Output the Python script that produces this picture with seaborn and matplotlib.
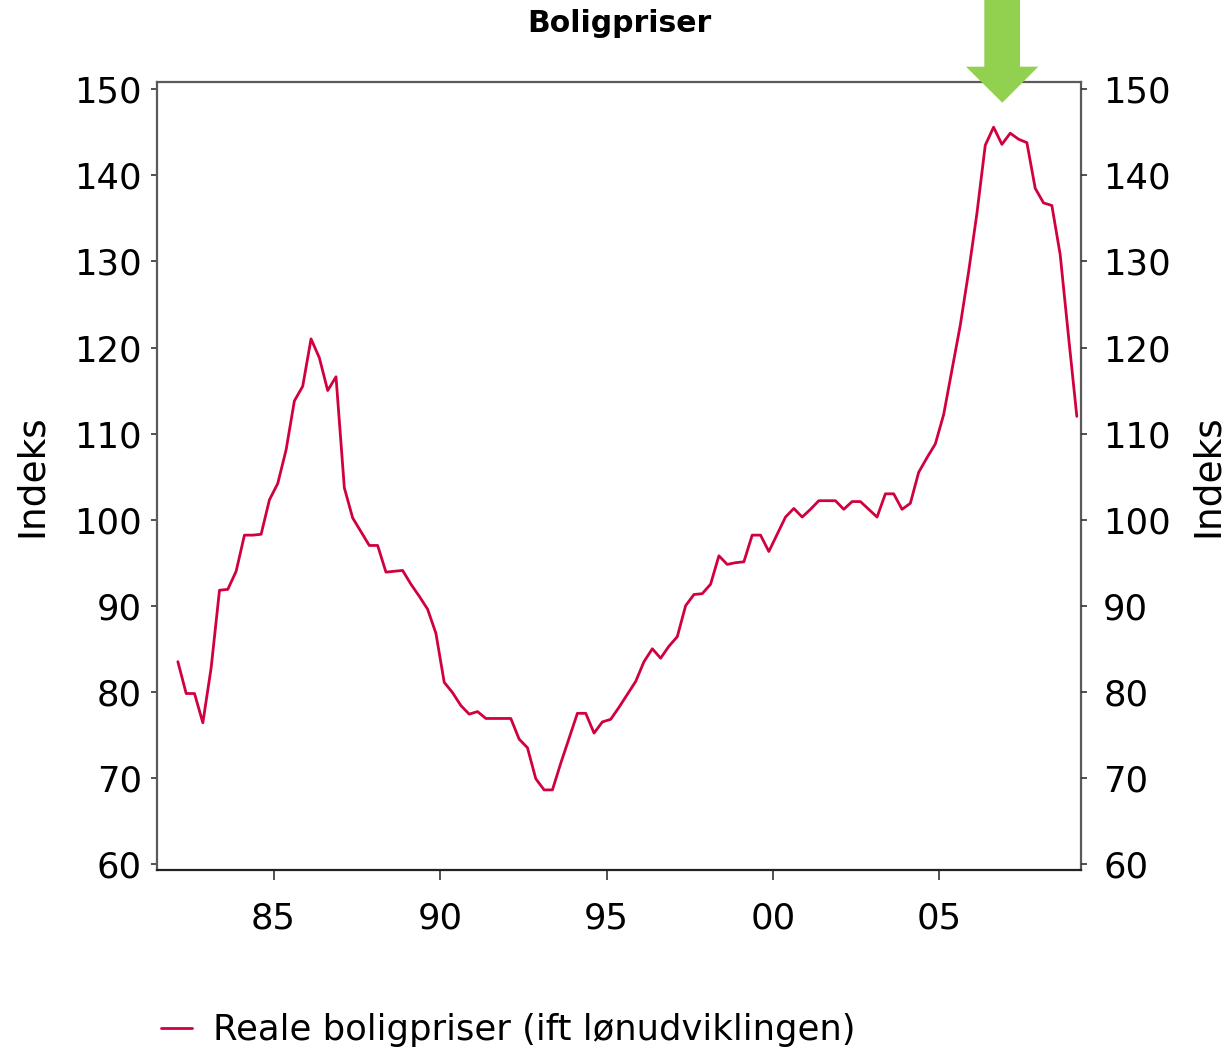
import numpy as np
import pandas as pd
import matplotlib
matplotlib.use("Agg")
import matplotlib.pyplot as plt
from matplotlib.patches import Polygon
import seaborn as sns

# ---- data (quarterly, 1982Q1 - 2009Q1) ----
start_quarter = "1982Q1"
end_quarter = "2009Q1"
values = [
    83.5, 79.8, 79.8, 76.4, 82.8, 91.8, 91.9, 94.0, 98.2, 98.2,
    98.3, 102.3, 104.2, 108.1, 113.8, 115.5, 121.0, 118.8, 115.0, 116.6,
    103.7, 100.2, 98.6, 97.0, 97.0, 93.9, 94.0, 94.1, 92.5, 91.1,
    89.6, 86.8, 81.1, 79.9, 78.4, 77.4, 77.7, 76.9, 76.9, 76.9,
    76.9, 74.5, 73.5, 69.9, 68.6, 68.6, 71.7, 74.6, 77.5, 77.5,
    75.2, 76.5, 76.8, 78.2, 79.7, 81.2, 83.5, 85.0, 83.9, 85.3,
    86.4, 90.0, 91.3, 91.4, 92.5, 95.8, 94.8, 95.0, 95.1, 98.2,
    98.2, 96.3, 98.3, 100.3, 101.3, 100.3, 101.2, 102.2, 102.2, 102.2,
    101.2, 102.1, 102.1, 101.2, 100.3, 103.0, 103.0, 101.2, 101.9, 105.5,
    107.2, 108.8, 112.2, 117.4, 122.6, 128.8, 135.6, 143.5, 145.6, 143.6,
    144.9, 144.2, 143.8, 138.5, 136.8, 136.5, 130.8, 121.3, 112.0,
]
x_tick_years = [1985, 1990, 1995, 2000, 2005]
x_tick_labels = ["85", "90", "95", "00", "05"]
y_ticks = [60, 70, 80, 90, 100, 110, 120, 130, 140, 150]
title = "Boligpriser"
y_label = "Indeks"
series_label = "Reale boligpriser (ift lønudviklingen)"

periods = pd.period_range(start_quarter, end_quarter, freq="Q")
x_dec = periods.year + (periods.quarter - 0.5) / 4.0
df = pd.DataFrame({"x": x_dec, "value": values})

# ---- style ----
sns.set_style("white")
plt.rcParams["font.family"] = ["DejaVu Sans"]
plt.rcParams["text.color"] = "black"
plt.rcParams["axes.labelcolor"] = "black"
plt.rcParams["xtick.color"] = "black"
plt.rcParams["ytick.color"] = "black"

line_color = "#D1003F"
spine_color = "#5a5a5a"
tick_size = 25.5
label_size = 27

fig = plt.figure(figsize=(12.27, 10.55), dpi=100)
ax = fig.add_axes([0.128, 0.1754, 0.753, 0.7469])

sns.lineplot(data=df, x="x", y="value", ax=ax, color=line_color,
             linewidth=2.0, label=series_label, legend=False)

ax.set_xlim(1981.5, 2009.25)
ax.set_ylim(59.3, 150.85)
ax.set_xticks(x_tick_years)
ax.set_xticklabels(x_tick_labels)
ax.set_yticks(y_ticks)
ax.set_xlabel("")

for s in ax.spines.values():
    s.set_visible(True)
    s.set_color(spine_color)
    s.set_linewidth(1.6)
ax.spines["bottom"].set_color("#222222")

ax.tick_params(axis="x", which="both", bottom=True, top=False, direction="out",
               length=7, width=1.2, color="#333333", labelsize=tick_size, pad=16)
ax.tick_params(axis="y", which="both", left=True, right=False, direction="out",
               length=4, width=1.2, color="#333333", labelsize=tick_size, pad=7)

ax.set_ylabel(y_label, fontsize=label_size)
ax.yaxis.set_label_coords(-0.135, 0.5)
ax.yaxis.label.set_va("center")

ax2 = ax.twinx()
ax2.set_ylim(ax.get_ylim())
ax2.set_yticks(y_ticks)
ax2.tick_params(axis="y", right=True, direction="out", length=4, width=1.2,
                color="#333333", labelsize=tick_size, pad=12)
for s in ax2.spines.values():
    s.set_visible(False)
ax2.set_ylabel(y_label, fontsize=label_size)
ax2.yaxis.set_label_coords(1.137, 0.5)
ax2.yaxis.label.set_va("center")

# title
fig.text(0.5045, 0.978, title, ha="center", va="center", fontsize=21.5,
         fontweight="heavy", color="black")

# green arrow (annotation, figure coordinates)
W, H = 1227.0, 1055.0
cx = 1002.3
arrow_px = [(984.3, 0), (1020.0, 0), (1020.0, 66.7), (1038.3, 66.7),
            (cx, 102.7), (966.0, 66.7), (984.3, 66.7)]
arrow_fig = [(px / W, 1 - py / H) for px, py in arrow_px]
fig.patches.append(Polygon(arrow_fig, closed=True, transform=fig.transFigure,
                           facecolor="#92D050", edgecolor="none", zorder=10))

# legend
handles, labels = ax.get_legend_handles_labels()
fig.legend(handles, labels, loc="center left", bbox_to_anchor=(0.105, 0.0237),
           frameon=False, fontsize=25.5, handlelength=0.87, handletextpad=0.62)

fig.savefig("out.png", dpi=100)
